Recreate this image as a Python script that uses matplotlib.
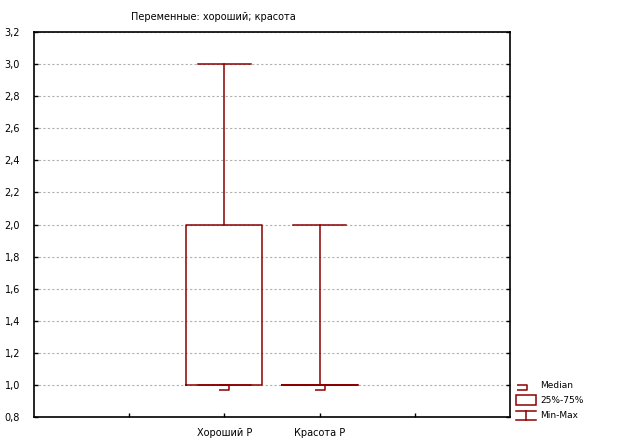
import matplotlib
matplotlib.use("Agg")
import matplotlib.pyplot as plt
from matplotlib.path import Path
from matplotlib.patches import Rectangle
from matplotlib.lines import Line2D

plt.rcParams['font.family'] = ['Liberation Sans Narrow', 'DejaVu Sans']

# данные
variables = ['Хороший P', 'Красота P']
positions = [2, 3]
mins = [1.0, 1.0]
q1s = [1.0, 1.0]
medians = [1.0, 1.0]
q3s = [2.0, 1.0]
maxs = [3.0, 2.0]
title = 'Переменные: хороший; красота'
red = '#8b0000'

fig = plt.figure(figsize=(6.24, 4.44), dpi=100)
ax = fig.add_axes([34 / 624, 27 / 444, 476 / 624, 385 / 444])

stats = []
for i in range(len(variables)):
    stats.append(dict(label=variables[i], whislo=mins[i], q1=q1s[i], med=medians[i],
                      q3=q3s[i], whishi=maxs[i]))

ax.bxp(stats, positions=positions, widths=0.8, capwidths=0.55, showfliers=False,
       boxprops=dict(color=red, lw=1.1),
       whiskerprops=dict(color=red, lw=1.1),
       capprops=dict(color=red, lw=1.1),
       medianprops=dict(visible=False), zorder=3)

# маркер медианы (скобка)
bracket = Path([(-1, 0), (1, 0), (1, -1), (-1, -1)],
               [Path.MOVETO, Path.LINETO, Path.LINETO, Path.LINETO])
ax.plot(positions, medians, ls='none', marker=bracket, markersize=7,
        mec=red, mfc='none', mew=1.1, zorder=4)

ax.set_xlim(0, 5)
ax.set_ylim(0.8, 3.2)
ax.set_xticks([1, 2, 3, 4])
ax.set_xticklabels(['', variables[0], variables[1], ''])
yt = [0.8 + 0.2 * k for k in range(13)]
ax.set_yticks(yt)
ax.set_yticklabels([f'{v:.1f}'.replace('.', ',') for v in yt])
ax.tick_params(direction='in', length=3, labelsize=7, width=1, right=True)
ax.tick_params(axis='x', pad=8)
ax.tick_params(axis='y', pad=10)
ax.yaxis.grid(True, ls=(0, (2, 2)), color='#b0b0b0', lw=0.8)
for s in ax.spines.values():
    s.set_linewidth(1.2)

fig.text(213 / 624, 1 - 17 / 444, title, ha='center', va='center', fontsize=7)

# легенда
lx, tx = 522 / 624, 540 / 624
ys = [1 - 385 / 444, 1 - 400 / 444, 1 - 415 / 444]
fig.add_artist(Line2D([lx], [ys[0]], ls='none', marker=bracket, markersize=7,
                      mec=red, mfc='none', mew=1.1, transform=fig.transFigure))
fig.add_artist(Rectangle((516 / 624, ys[1] - 5 / 444), 20 / 624, 10 / 444,
                         fill=False, ec=red, lw=1.1, transform=fig.transFigure))
fig.add_artist(Line2D([516 / 624, 536 / 624], [ys[2] + 4 / 444] * 2, color=red, lw=1.1,
                      transform=fig.transFigure))
fig.add_artist(Line2D([526 / 624] * 2, [ys[2] + 4 / 444, ys[2] - 5 / 444], color=red, lw=1.1,
                      transform=fig.transFigure))
fig.add_artist(Line2D([516 / 624, 536 / 624], [ys[2] - 5 / 444] * 2, color=red, lw=1.1,
                      transform=fig.transFigure))
for y, t in zip(ys, ['Median', '25%-75%', 'Min-Max']):
    fig.text(tx, y, t, fontsize=6.5, va='center')

fig.savefig('out.png', dpi=100)
